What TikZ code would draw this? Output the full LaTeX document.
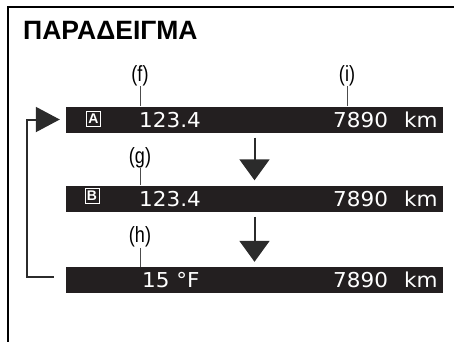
\documentclass[tikz,border=0pt]{standalone}
\usepackage{fontspec}
\setmainfont{Liberation Sans}
\newfontfamily\lcdfont[FakeStretch=1.05]{DejaVu Sans}
\newfontfamily\tagfont[FakeStretch=0.82]{Liberation Sans}
\usetikzlibrary{arrows.meta}
\definecolor{barblack}{HTML}{231F20}
\definecolor{linegray}{HTML}{2B2B2B}

\begin{document}
\begin{tikzpicture}[x=1pt,y=-1pt,
	bar/.style={fill=barblack,minimum width=377pt,minimum height=26pt,inner sep=0pt},
	lcd/.style={text=white,font=\lcdfont\fontsize{20.5}{20.5}\selectfont,anchor=base west,inner sep=0pt},
	icon/.style={draw=white,line width=0.9pt,text=white,minimum width=14pt,minimum height=15pt,inner sep=0pt,font=\bfseries\fontsize{14}{14}\selectfont},
	tag/.style={font=\tagfont\fontsize{22}{22}\selectfont,inner sep=0.5pt},
	leader/.style={draw=black!70,line width=0.8pt},
	downarrow/.style={draw=linegray,line width=2pt,shorten <=5pt,shorten >=5pt,-{Triangle[width=30pt,length=21pt]}},
	looparrow/.style={draw=linegray,line width=2pt,-{Triangle[width=25pt,length=24pt]}}]
				\useasboundingbox (0,0) rectangle (454,341);
				\clip (0,0) rectangle (454,341);
				% frame and heading
				\draw[line width=1.6pt] (8,360) |- (470,6.8);
				\node[anchor=base west,inner sep=0pt,font=\bfseries\fontsize{26.5}{30}\selectfont] (title) at (23,39.5) {ΠΑΡΑΔΕΙΓΜΑ};
				% the three display lines
				\node[bar] (barA) at (254.5,119.5) {};
				\node[bar] (barB) at (254.5,198.5) {};
				\node[bar] (barC) at (254.5,280) {};
				\node[icon] (iconA) at (93.5,119) {A};
				\node[icon] (iconB) at (92,196) {B};
				\node[lcd] (tripA) at (139,127) {123.4};
				\node[lcd] (odoA) at (333,127) {7890};
				\node[lcd] (kmA) at (404,127) {km};
				\node[lcd] (tripB) at (139,206) {123.4};
				\node[lcd] (odoB) at (333,206) {7890};
				\node[lcd] (kmB) at (404,206) {km};
				\node[lcd] (tempC) at (142,287.5) {15 °F};
				\node[lcd] (odoC) at (333,287.5) {7890};
				\node[lcd] (kmC) at (404,287.5) {km};
				% callouts
				\node[tag] (tagf) at (140,75.5) {(f)};
				\node[tag] (tagi) at (347,75.5) {(i)};
				\node[tag] (tagg) at (140,157.5) {(g)};
				\node[tag] (tagh) at (140,237) {(h)};
				\draw[leader] (tagf) -- (tagf |- barA.north);
				\draw[leader] (tagi) -- (tagi |- barA.north);
				\draw[leader] (tagg) -- (tagg |- barB.north);
				\draw[leader] (tagh) -- (tagh |- barC.north);
				% sequence
				\draw[downarrow] (barA) -- (barB);
				\draw[downarrow] (barB) -- (barC);
				\coordinate (loopx) at (27,0);
				\coordinate (loopstart) at ([xshift=-12pt,yshift=3pt]barC.west);
				\draw[looparrow] (loopstart) -- (loopx |- loopstart) -- (loopx |- barA.west) -- ([xshift=-6pt]barA.west);
			\end{tikzpicture}
\end{document}
